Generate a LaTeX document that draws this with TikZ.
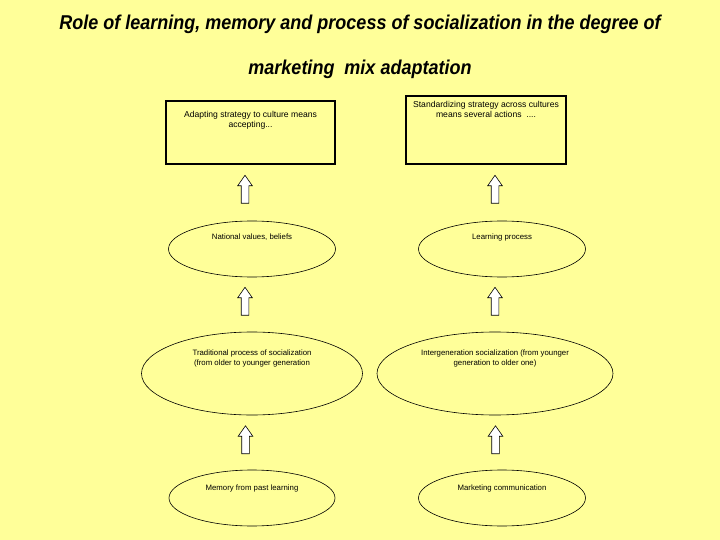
\documentclass[tikz,border=0pt]{standalone}
\usepackage{fontspec}
\setmainfont{Liberation Sans}
\newfontfamily\titlefont[FakeStretch=0.9]{Liberation Sans}
\usepackage{xcolor}
\definecolor{slideyellow}{RGB}{255,255,153}
\usetikzlibrary{shapes.geometric,shapes.arrows,positioning}

\begin{document}
\begin{tikzpicture}[
  x=1pt,y=-1pt,
  ttl/.style={font=\titlefont\fontsize{20}{24}\selectfont\bfseries\itshape,inner sep=0pt},
  txt/.style={font=\fontsize{7.8}{10}\selectfont,align=center,inner sep=0pt},
  boxtxt/.style={txt,font=\fontsize{8.6}{10}\selectfont},
  sbox/.style={rectangle,draw,line width=2.2pt,minimum width=169pt,minimum height=63pt},
  cloud/.style={ellipse,draw,line width=0.6pt,inner sep=0pt},
  uparrow/.style={single arrow,draw,fill=white,line width=0.6pt,inner sep=3.5pt,
    minimum height=28pt,single arrow head extend=3.5pt,
    single arrow tip angle=70,shape border rotate=90}
]
  \fill[slideyellow] (0,0) rectangle (720,540);
  \useasboundingbox (0,0) rectangle (720,540);

  \node[ttl] (title1) at (360,24) {Role of learning, memory and process of socialization in the degree of};
  \node[ttl] (title2) at (360,69) {marketing\ \ mix adaptation};

  % top boxes
  \node[sbox,label={[boxtxt,anchor=north,yshift=-11pt]north:Adapting strategy to\ culture means\\accepting...}] (adapt) at (250.5,132.5) {};
  \node[sbox,minimum width=160pt,minimum height=68pt,label={[boxtxt,anchor=north,yshift=-6pt]north:Standardizing strategy across cultures\\means several actions\ \ ....}] (stand) at (486,130) {};

  % left column
  \node[cloud,minimum width=167pt,minimum height=56pt,label={[txt,yshift=12pt]center:National values, beliefs}] (values) at (252,249) {};
  \node[cloud,minimum width=221pt,minimum height=83pt,label={[txt,yshift=15pt]center:Traditional process of socialization\\(from older to younger generation}] (trad) at (252,373.5) {};
  \node[cloud,minimum width=166pt,minimum height=56pt,label={[txt,yshift=10pt]center:Memory from past learning}] (memory) at (252,498) {};

  % right column
  \node[cloud,minimum width=167pt,minimum height=56pt,label={[txt,yshift=12pt]center:Learning process}] (learn) at (502,249) {};
  \node[cloud,minimum width=236pt,minimum height=83pt,label={[txt,yshift=15pt]center:Intergeneration socialization (from younger\\generation to older one)}] (inter) at (495,373.5) {};
  \node[cloud,minimum width=167pt,minimum height=56pt,label={[txt,yshift=10pt]center:Marketing communication}] (market) at (502,498) {};

  % arrows
  \node[uparrow] (a1) at (245,192) {};
  \node[uparrow] (a2) at (245,304) {};
  \node[uparrow] (a3) at (245.5,442.5) {};
  \node[uparrow] (b1) at (495,192) {};
  \node[uparrow] (b2) at (495,304) {};
  \node[uparrow] (b3) at (495.5,442.5) {};
\end{tikzpicture}
\end{document}
